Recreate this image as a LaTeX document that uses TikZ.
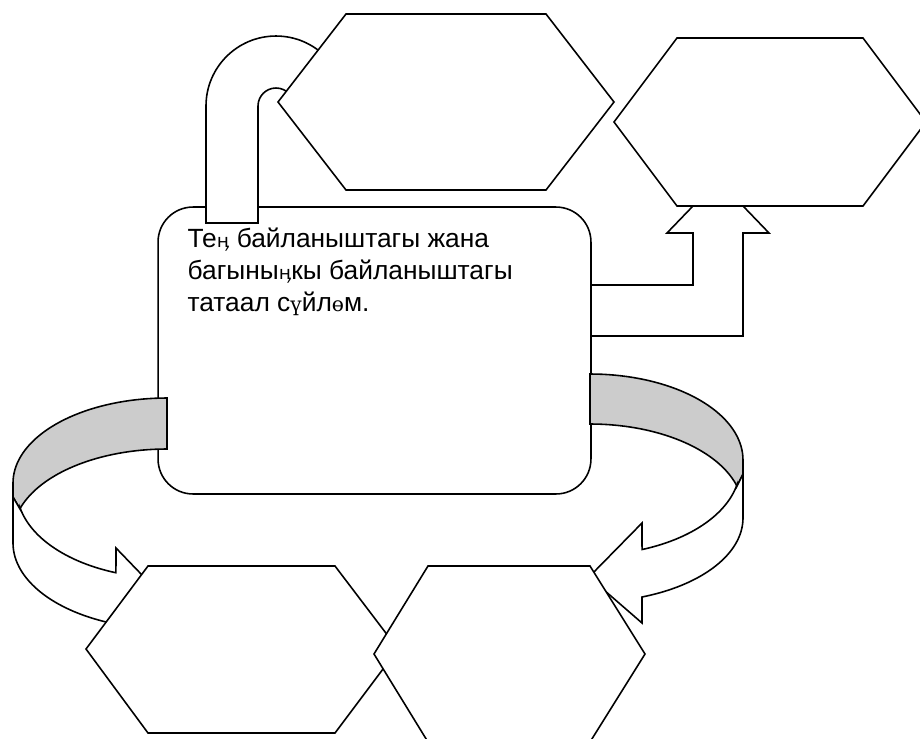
\documentclass[tikz,border=0pt]{standalone}
\usepackage{fontspec}
\setmainfont{Liberation Sans}
\newfontfamily\kyrfont{DejaVu Serif}
\newfontfamily\kyrsansfont{DejaVu Sans}
\usepackage{tikz}
\usetikzlibrary{positioning}
\definecolor{bandgray}{HTML}{CCCCCC}
\tikzstyle{hexa} = [draw,fill=white,line width=0.9pt]
\tikzstyle{blockarrow} = [draw,fill=white,line width=0.9pt]
\tikzstyle{backband} = [draw,fill=bandgray,line width=0.9pt]
\tikzstyle{mainbox} = [draw,fill=white,line width=0.9pt,rounded corners=0.7cm,minimum width=8.66cm,minimum height=5.74cm,inner sep=0pt]
\newcommand{\kyr}[1]{{\kyrfont\fontsize{11.5}{12}\selectfont #1}}
\newcommand{\kyrn}{{\kyrsansfont\fontsize{10.5}{12}\selectfont ӊ}}

\begin{document}
\begin{tikzpicture}[x=0.02cm,y=-0.02cm]
    \clip (0,0) rectangle (920,738);
    \draw [blockarrow] (585,285) -- (693,285) -- (693,233) -- (667,233) -- (718,180) -- (769,233) -- (743,233) -- (743,336) -- (585,336) -- cycle;
    \node [mainbox] (main) at (374.5,350.5) {};
    \node [anchor=north west,align=left,inner sep=0pt,font=\fontsize{15}{18.4}\selectfont,
      below right=0.42cm and 0.6cm of main.north west] (txt)
      {Те\kyrn{} байланыштагы жана\\багыны\kyrn{}кы байланыштагы\\татаал с\kyr{ү}йл\kyr{ө}м.};
    \draw [blockarrow] (206,223) -- (206,106) arc [start angle=180,end angle=0,radius=1.4cm]
      -- (294,106) arc [start angle=0,end angle=180,radius=0.36cm] -- (258,223) -- cycle;
    \draw [hexa] (278,102) -- (346,14) -- (546,14) -- (614,102) -- (546,190) -- (346,190) -- cycle;
    \draw [hexa] (614,122) -- (677,38) -- (863,38) -- (926,122) -- (863,206) -- (677,206) -- cycle;
    \draw [backband] plot [domain=-90:-180,samples=40] ({167+154*cos(\x)},{483+85*sin(\x)})
      -- (13,497) -- (20,509) -- plot [domain=-162.7:-90,samples=40] ({167+154*cos(\x)},{534+85*sin(\x)}) -- cycle;
    \draw [blockarrow] (20,509) -- plot [domain=168.5:109.9,samples=40] ({167+150*cos(\x)},{490+88*sin(\x)})
      -- (116,548) -- (169,603) -- (116,650) -- (116,624)
      -- plot [domain=109.3:180,samples=40] ({167+154*cos(\x)},{543+86*sin(\x)}) -- (13,497) -- cycle;
    \draw [backband] plot [domain=-90:0,samples=40] ({590+153*cos(\x)},{460+86*sin(\x)})
      -- (743,474) -- (737,486) -- plot [domain=-16:-90,samples=40] ({590+153*cos(\x)},{510+86*sin(\x)}) -- cycle;
    \draw [blockarrow] (737,486) -- plot [domain=11.5:69.7,samples=40] ({590+150*cos(\x)},{467+88*sin(\x)})
      -- (642,523) -- (589,577) -- (642,623) -- (642,597)
      -- plot [domain=70:0,samples=40] ({590+153*cos(\x)},{518+84*sin(\x)}) -- (743,474) -- cycle;
    \draw [hexa] (86,649) -- (148,566) -- (335,566) -- (398,649) -- (335,733) -- (148,733) -- cycle;
    \draw [hexa] (374,654) -- (428,566) -- (590,566) -- (645,654) -- (590,742) -- (428,742) -- cycle;
\end{tikzpicture}
\end{document}
